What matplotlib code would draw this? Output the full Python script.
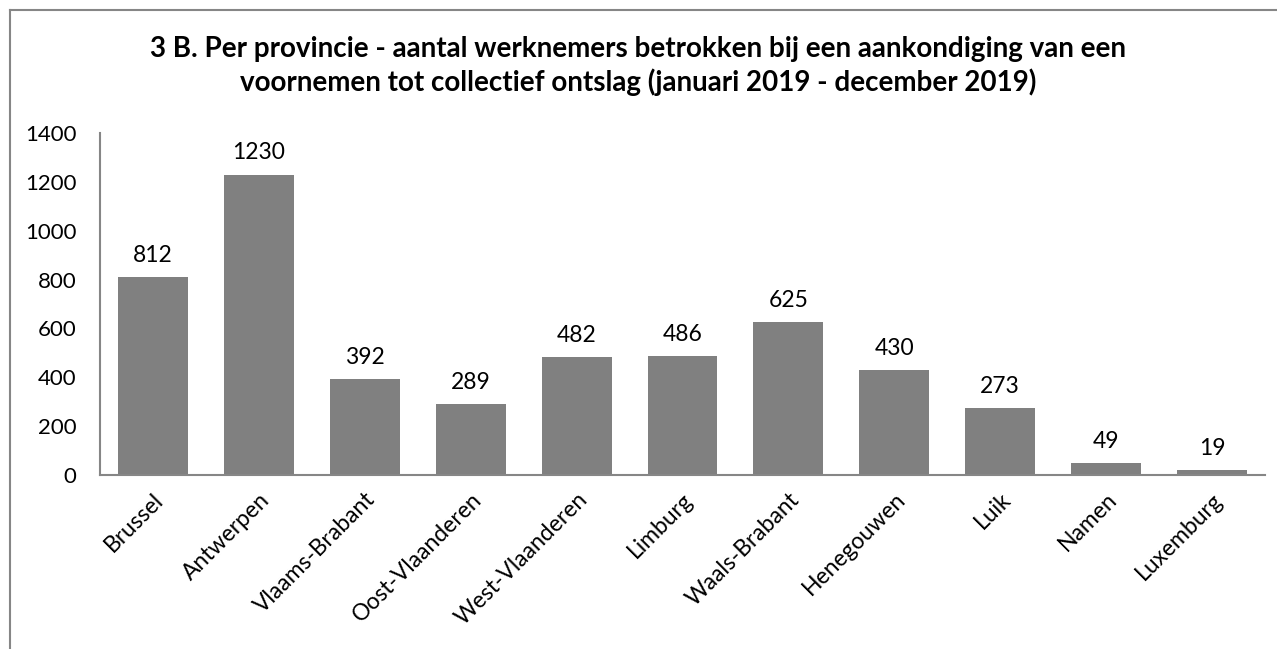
import matplotlib
matplotlib.use("Agg")
import matplotlib.pyplot as plt
from matplotlib.lines import Line2D

categories = ["Brussel", "Antwerpen", "Vlaams-Brabant", "Oost-Vlaanderen", "West-Vlaanderen",
              "Limburg", "Waals-Brabant", "Henegouwen", "Luik", "Namen", "Luxemburg"]
values = [812, 1230, 392, 289, 482, 486, 625, 430, 273, 49, 19]
yticks = [0, 200, 400, 600, 800, 1000, 1200, 1400]
title = ("3 B. Per provincie - aantal werknemers betrokken bij een aankondiging van een\n"
         "voornemen tot collectief ontslag (januari 2019 - december 2019)")

plt.rcParams['font.family'] = ['Lato', 'DejaVu Sans']

W, H = 1277, 649
fig = plt.figure(figsize=(W / 100, H / 100), dpi=100)
ax = fig.add_axes([100 / W, 1 - 475 / H, 1165 / W, (475 - 133) / H])

x = list(range(len(categories)))
ax.bar(x, values, width=0.66, color="#808080", zorder=2)
ax.set_xlim(-0.5, len(categories) - 0.5)
ax.set_ylim(0, 1400)
ax.set_yticks(yticks)
ax.set_yticklabels([str(t) for t in yticks], fontsize=16)
ax.set_xticks(x)
ax.set_xticklabels(categories, rotation=45, ha="right", rotation_mode="anchor", fontsize=16.5)
ax.tick_params(axis="both", length=0)
ax.tick_params(axis="y", pad=17)
ax.tick_params(axis="x", pad=10)
for s in ["top", "right"]:
    ax.spines[s].set_visible(False)
for s in ["left", "bottom"]:
    ax.spines[s].set_color("#868686")
    ax.spines[s].set_linewidth(1.5)

for xi, v in zip(x, values):
    ax.annotate(str(v), (xi, v), xytext=(0, 8), textcoords="offset points",
                ha="center", va="bottom", fontsize=16.5)

fig.text(0.5, 1 - 66 / H, title, ha="center", va="center", fontsize=20,
         fontweight="bold", linespacing=1.25)

# chart border (top and left visible)
fig.add_artist(Line2D([10 / W, 10 / W], [0, 1 - 10 / H], transform=fig.transFigure,
                      color="#868686", linewidth=1.5))
fig.add_artist(Line2D([10 / W, 1], [1 - 10 / H, 1 - 10 / H], transform=fig.transFigure,
                      color="#868686", linewidth=1.5))

fig.savefig("out.png", dpi=100)
